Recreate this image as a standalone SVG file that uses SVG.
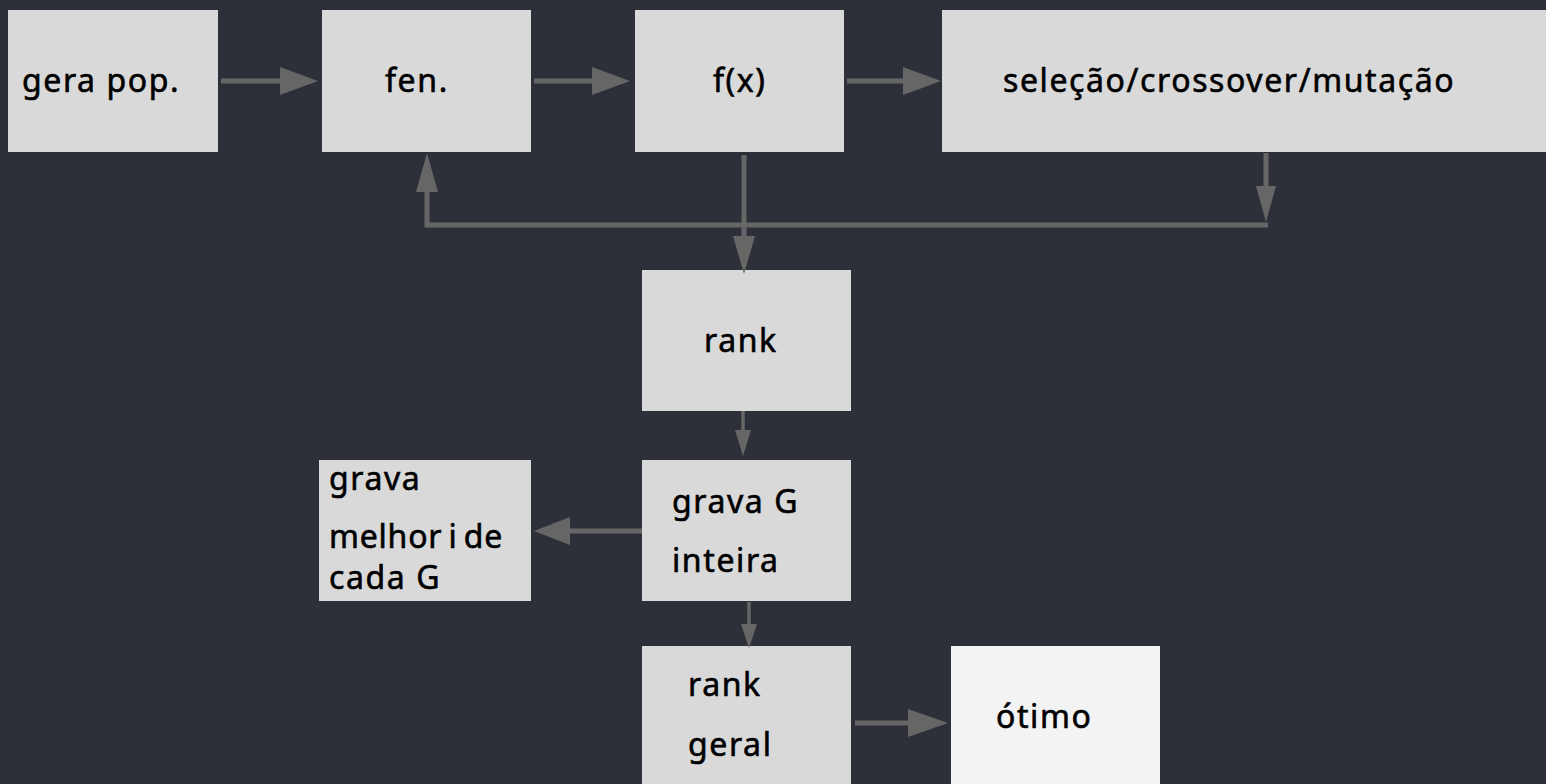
<svg xmlns="http://www.w3.org/2000/svg" width="1546" height="784" viewBox="0 0 1546 784">
  <defs>
    <style>
      .box { fill: #d9d9d9; }
      .box.light { fill: #f3f3f3; }
      .lbl { font-family: "Noto Sans", "DejaVu Sans", sans-serif; font-size: 32px; letter-spacing: 1.6px; fill: #000; stroke: #000; stroke-width: 0.6px; }
      .tight { letter-spacing: 0.8px; word-spacing: -3px; }
      .edge { stroke: #666666; stroke-width: 5; fill: none; }
      .edge.thin { stroke-width: 3.5; }
      .head { fill: #666666; }
    </style>
  </defs>
  <rect width="1546" height="784" fill="#2d3038"/>

  <g id="gera-pop">
    <rect class="box" x="8" y="10" width="210" height="142"/>
    <text class="lbl" x="22" y="92">gera pop.</text>
  </g>
  <g id="fen">
    <rect class="box" x="322" y="10" width="209" height="142"/>
    <text class="lbl" x="385" y="92">fen.</text>
  </g>
  <g id="fx">
    <rect class="box" x="635" y="10" width="209" height="142"/>
    <text class="lbl" x="713" y="92">f(x)</text>
  </g>
  <g id="selecao">
    <rect class="box" x="942" y="10" width="604" height="142"/>
    <text class="lbl" x="1003" y="92">seleção/crossover/mutação</text>
  </g>
  <g id="rank">
    <rect class="box" x="642" y="270" width="209" height="141"/>
    <text class="lbl" x="704" y="352">rank</text>
  </g>
  <g id="grava-g">
    <rect class="box" x="642" y="460" width="209" height="141"/>
    <text class="lbl" x="672" y="513">grava G</text>
    <text class="lbl" x="672" y="572">inteira</text>
  </g>
  <g id="grava-melhor">
    <rect class="box" x="319" y="460" width="212" height="141"/>
    <text class="lbl" x="329" y="490">grava</text>
    <text class="lbl tight" x="329" y="548">melhor i de</text>
    <text class="lbl" x="329" y="589">cada G</text>
  </g>
  <g id="rank-geral">
    <rect class="box" x="642" y="646" width="209" height="138"/>
    <text class="lbl" x="688" y="696">rank</text>
    <text class="lbl" x="688" y="756">geral</text>
  </g>
  <g id="otimo">
    <rect class="box light" x="951" y="646" width="209" height="138"/>
    <text class="lbl" x="996" y="728">ótimo</text>
  </g>

  <g id="connectors">
    <!-- top row -->
    <line class="edge" x1="221" y1="81" x2="282" y2="81"/>
    <polygon class="head" points="280,67 318,81 280,95"/>
    <line class="edge" x1="534" y1="81" x2="594" y2="81"/>
    <polygon class="head" points="592,67 630,81 592,95"/>
    <line class="edge" x1="847" y1="81" x2="905" y2="81"/>
    <polygon class="head" points="903,67 941,81 903,95"/>

    <!-- feedback loop -->
    <line class="edge" x1="1266" y1="153" x2="1266" y2="190"/>
    <polygon class="head" points="1256,186 1276,186 1266,222"/>
    <polyline class="edge" points="1268,225 427,225 427,188"/>
    <polygon class="head" points="416,192 438,192 427,153"/>

    <!-- f(x) to rank -->
    <line class="edge" x1="744" y1="155" x2="744" y2="240"/>
    <polygon class="head" points="733,236 755,236 744,274"/>

    <!-- rank to grava G -->
    <line class="edge thin" x1="743" y1="411" x2="743" y2="433"/>
    <polygon class="head" points="735,430 751,430 743,456"/>

    <!-- grava G to grava melhor -->
    <line class="edge" x1="642" y1="531" x2="568" y2="531"/>
    <polygon class="head" points="570,517 570,545 534,531"/>

    <!-- grava G to rank geral -->
    <line class="edge thin" x1="749" y1="602" x2="749" y2="627"/>
    <polygon class="head" points="741,624 757,624 749,648"/>

    <!-- rank geral to otimo -->
    <line class="edge" x1="855" y1="723" x2="910" y2="723"/>
    <polygon class="head" points="908,709 948,723 908,737"/>
  </g>
</svg>
